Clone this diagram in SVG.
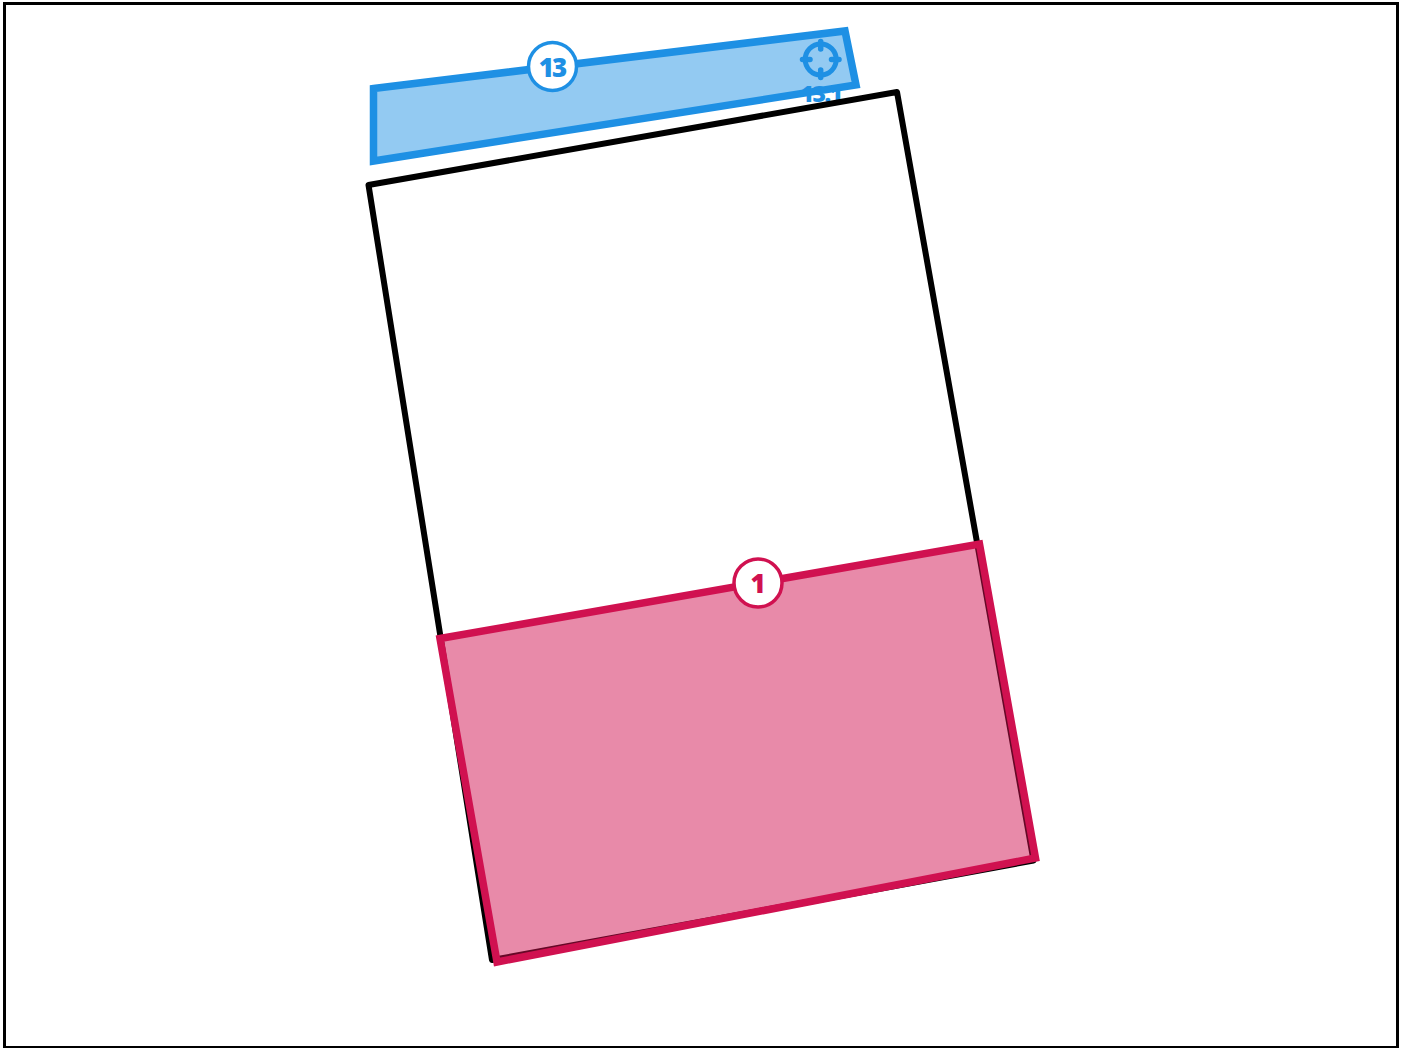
<svg xmlns="http://www.w3.org/2000/svg" width="1405" height="1048" viewBox="0 0 1405 1048">
<style>
.lbl{font-family:"Open Sans","Noto Sans",sans-serif;font-weight:800;text-anchor:middle}
.blue{fill:#1e90e4}
.red{fill:#d01150}
.badge{fill:#fff;stroke-width:3.500}
</style>
<rect width="1405" height="1048" fill="#fff"/>
<rect x="4.500" y="3.500" width="1393" height="1044" fill="none" stroke="#000" stroke-width="3"/>
<g id="zone-13">
<polygon points="373.500,88.500 845,31 856,85 373.500,161" fill="#1e90e4" fill-opacity="0.48" stroke="#1e90e4" stroke-width="7.500"/>
</g>
<g id="point-13-1">
<circle cx="820.700" cy="59.500" r="15.500" fill="none" stroke="#1e90e4" stroke-width="5"/>
<path d="M820.700 41.500V49M820.700 70V77.500M802.500 59.500H810M831.500 59.500H839" fill="none" stroke="#1e90e4" stroke-width="5.500" stroke-linecap="round"/>
<text class="lbl blue" x="821" y="102" font-size="23" letter-spacing="-1.500">13.1</text>
</g>
<g id="room">
<polygon points="368.500,185 897,92 1033.500,860.500 492,960" fill="#fff" stroke="#000" stroke-width="6" stroke-linejoin="round"/>
</g>
<g id="zone-1">
<polygon points="440,638.500 979.500,544 1035.500,858 497,962" fill="#d01150" fill-opacity="0.49" stroke="#d01150" stroke-width="7.500"/>
</g>
<g id="badge-13">
<circle class="badge" cx="552.500" cy="66.500" r="24" stroke="#1e90e4"/>
<text class="lbl blue" x="552" y="76.500" font-size="26" letter-spacing="-2">13</text>
</g>
<g id="badge-1">
<circle class="badge" cx="758" cy="583" r="24" stroke="#d01150"/>
<text class="lbl red" x="758" y="593" font-size="26">1</text>
</g>
<g id="connectors"/>
</svg>
